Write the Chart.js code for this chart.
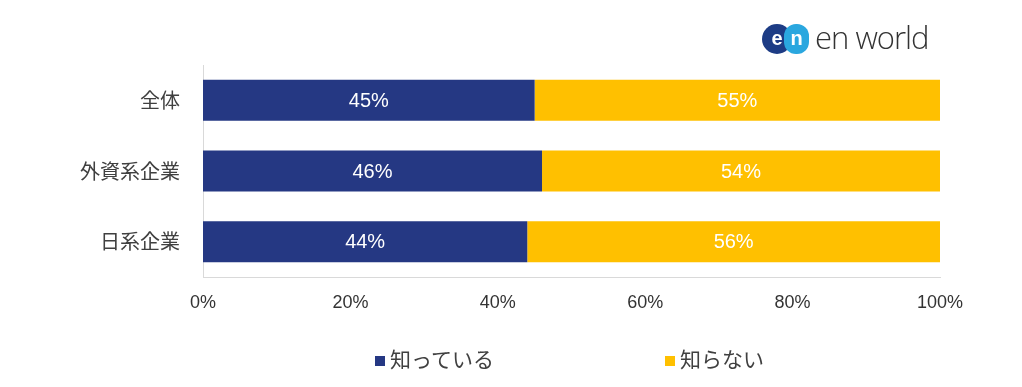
<!DOCTYPE html>
<html><head><meta charset="utf-8">
<script src="https://cdn.jsdelivr.net/npm/chart.js@4"></script>
<style>
html,body{margin:0;padding:0;background:#fff;}
#wrap{position:relative;width:1022px;height:387px;overflow:hidden;}
#c{position:absolute;left:0;top:0;}
.logo{position:absolute;left:762px;top:24px;height:30px;}
.circ{position:absolute;top:0;height:30px;border-radius:50%;color:#fff;font:bold 20px 'Liberation Sans',Arial,sans-serif;text-align:center;line-height:28px;}
.c1{left:0;width:30px;background:#1d3c85;}
.c2{left:22px;width:25px;background:#2aa7df;border-radius:12px;}
.logotext{position:absolute;left:53px;top:-8px;font:300 31px 'Open Sans','Lato',sans-serif;color:#333;white-space:nowrap;letter-spacing:-1px;}
.leg{position:absolute;top:343px;font:21px 'Noto Sans CJK JP',sans-serif;color:#404040;white-space:nowrap;}
.sq{display:inline-block;width:10px;height:10px;margin-right:5px;vertical-align:1px;}
</style></head><body>
<div id="wrap">
<canvas id="c" width="1022" height="387"></canvas>
<div class="logo"><div class="circ c1">e</div><div class="circ c2">n</div><div class="logotext">en world</div></div>
<div class="leg" id="leg1" style="left:375px;"></div>
<div class="leg" id="leg2" style="left:665px;"></div>
</div>
<script>
const categories = ['全体', '外資系企業', '日系企業'];
const seriesNames = ['知っている', '知らない'];
const knowValues = [45, 46, 44];
const dontKnowValues = [55, 54, 56];
const xTicks = [0, 20, 40, 60, 80, 100];
const colors = ['#253883', '#ffc000'];

document.getElementById('leg1').innerHTML = '<span class="sq" style="background:'+colors[0]+'"></span>'+seriesNames[0];
document.getElementById('leg2').innerHTML = '<span class="sq" style="background:'+colors[1]+'"></span>'+seriesNames[1];

const labelPlugin = {
  id: 'barLabels',
  afterDatasetsDraw(chart) {
    const ctx = chart.ctx;
    ctx.save();
    ctx.fillStyle = '#ffffff';
    ctx.font = '20px "Liberation Sans", Arial, sans-serif';
    ctx.textAlign = 'center';
    ctx.textBaseline = 'middle';
    chart.data.datasets.forEach((ds, di) => {
      const meta = chart.getDatasetMeta(di);
      meta.data.forEach((bar, i) => {
        const x = (bar.x + bar.base) / 2;
        ctx.fillText(ds.data[i] + '%', x, bar.y + 1);
      });
    });
    ctx.restore();
  }
};

new Chart(document.getElementById('c'), {
  type: 'bar',
  data: {
    labels: categories,
    datasets: [
      { label: seriesNames[0], data: knowValues, backgroundColor: colors[0], barPercentage: 0.58, categoryPercentage: 1 },
      { label: seriesNames[1], data: dontKnowValues, backgroundColor: colors[1], barPercentage: 0.58, categoryPercentage: 1 }
    ]
  },
  options: {
    indexAxis: 'y',
    responsive: false,
    animation: false,
    layout: { padding: { left: 0, right: 82, top: 65, bottom: 70 } },
    plugins: { legend: { display: false }, tooltip: { enabled: false } },
    scales: {
      x: {
        stacked: true, min: 0, max: 100,
        afterBuildTicks(scale) { scale.ticks = xTicks.map(v => ({ value: v })); },
        afterFit(scale) { scale.height = 40; },
        grid: { display: false },
        border: { display: true, color: '#d9d9d9', width: 1 },
        ticks: { padding: 7, color: '#333333', font: { size: 18, family: '"Liberation Sans",Arial,sans-serif' }, callback: v => v + '%' }
      },
      y: {
        stacked: true,
        afterFit(scale) { scale.width = 203; },
        grid: { display: false },
        border: { display: true, color: '#d9d9d9', width: 1 },
        ticks: { padding: 15, color: '#404040', font: { size: 20, family: '"Noto Sans CJK JP",sans-serif' } }
      }
    }
  },
  plugins: [labelPlugin]
});
</script>
</body></html>
